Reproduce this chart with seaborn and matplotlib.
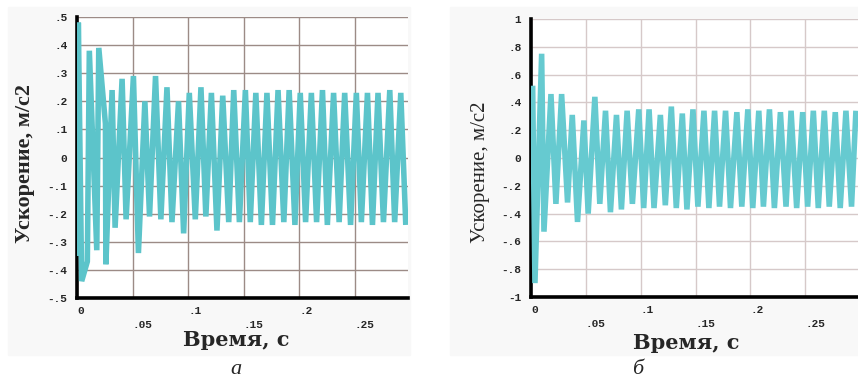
import numpy as np
import pandas as pd
import matplotlib
matplotlib.use("Agg")
import matplotlib.pyplot as plt
from matplotlib.patches import Rectangle
import seaborn as sns

# panel "а": peaks and troughs of the acceleration signal
t_peak_a = [0.0, 0.0012, 0.0111, 0.0196, 0.0256, 0.0316, 0.0406, 0.0508, 0.0611,
            0.0707, 0.0810, 0.0914, 0.1011, 0.1116, 0.1210, 0.1312, 0.1411,
            0.1516, 0.1610, 0.1710, 0.1810, 0.1910, 0.2010, 0.2110, 0.2210,
            0.2310, 0.2410, 0.2515, 0.2615, 0.2710, 0.2816, 0.2915]
v_peak_a = [0.27, 0.48, 0.38, 0.39, 0.12, 0.24, 0.28, 0.29, 0.20,
            0.29, 0.25, 0.20, 0.23, 0.25, 0.23, 0.22, 0.24,
            0.24, 0.23, 0.23, 0.24, 0.24, 0.23, 0.23, 0.24,
            0.23, 0.23, 0.23, 0.23, 0.23, 0.24, 0.23]
t_trough_a = [0.0004, 0.0042, 0.0093, 0.0178, 0.0260, 0.0343, 0.0442, 0.0553,
              0.0653, 0.0755, 0.0855, 0.0960, 0.1065, 0.1160, 0.1260, 0.1366,
              0.1462, 0.1560, 0.1660, 0.1760, 0.1862, 0.1962, 0.2058, 0.2157,
              0.2254, 0.2360, 0.2463, 0.2560, 0.2660, 0.2759, 0.2860, 0.2960]
v_trough_a = [-0.35, -0.44, -0.37, -0.33, -0.38, -0.25, -0.22, -0.34,
              -0.21, -0.22, -0.23, -0.27, -0.22, -0.21, -0.26, -0.23,
              -0.23, -0.23, -0.24, -0.24, -0.23, -0.24, -0.23, -0.23,
              -0.24, -0.23, -0.24, -0.23, -0.24, -0.23, -0.23, -0.24]

# panel "б"
t_peak_b = [0.0015, 0.0097, 0.0182, 0.0279, 0.0376, 0.0482, 0.0582, 0.0679,
            0.0779, 0.0876, 0.0982, 0.1076, 0.1179, 0.1279, 0.1379, 0.1476,
            0.1576, 0.1673, 0.1773, 0.1876, 0.1976, 0.2076, 0.2173, 0.2273,
            0.2370, 0.2476, 0.2573, 0.2673, 0.2773, 0.2870, 0.2961]
v_peak_b = [0.52, 0.75, 0.46, 0.46, 0.31, 0.27, 0.44, 0.34,
            0.31, 0.34, 0.35, 0.35, 0.31, 0.37, 0.32, 0.35,
            0.34, 0.34, 0.34, 0.33, 0.35, 0.34, 0.35, 0.33,
            0.34, 0.33, 0.34, 0.34, 0.33, 0.34, 0.34]
t_trough_b = [0.0036, 0.0118, 0.0227, 0.0333, 0.0424, 0.0521, 0.0627, 0.0724,
              0.0824, 0.0924, 0.1027, 0.1121, 0.1224, 0.1324, 0.1421, 0.1521,
              0.1621, 0.1718, 0.1818, 0.1921, 0.2021, 0.2118, 0.2218, 0.2324,
              0.2421, 0.2521, 0.2618, 0.2718, 0.2818, 0.2921]
v_trough_b = [-0.90, -0.53, -0.33, -0.32, -0.46, -0.40, -0.33, -0.39,
              -0.37, -0.33, -0.36, -0.36, -0.34, -0.36, -0.37, -0.35,
              -0.36, -0.35, -0.36, -0.35, -0.36, -0.35, -0.36, -0.35,
              -0.36, -0.35, -0.36, -0.35, -0.36, -0.35]

yticks_a = [0.5, 0.4, 0.3, 0.2, 0.1, 0.0, -0.1, -0.2, -0.3, -0.4, -0.5]
ylabels_a = [".5", ".4", ".3", ".2", ".1", "0", "-.1", "-.2", "-.3", "-.4", "-.5"]
yticks_b = [1.0, 0.8, 0.6, 0.4, 0.2, 0.0, -0.2, -0.4, -0.6, -0.8, -1.0]
ylabels_b = ["1", ".8", ".6", ".4", ".2", "0", "-.2", "-.4", "-.6", "-.8", "-1"]
xticks_major = [0.0, 0.1, 0.2]
xlabels_major = ["0", ".1", ".2"]
xticks_minor = [0.05, 0.15, 0.25]
xlabels_minor = [".05", ".15", ".25"]


def signal(tp, vp, tt, vt):
    df = pd.concat([
        pd.DataFrame({"t": tp, "acc": vp}),
        pd.DataFrame({"t": tt, "acc": vt}),
    ])
    return df.sort_values("t").reset_index(drop=True)


sns.set_style("white")

fig = plt.figure(figsize=(8.58, 3.79), dpi=100)
fig.patch.set_facecolor("white")
# very light grey backdrop behind each original screenshot
fig.patches.append(Rectangle((8 / 858, 1 - 355 / 379), 402 / 858, 348 / 379,
                             transform=fig.transFigure, color="#f8f8f8", zorder=-10))
fig.patches.append(Rectangle((450 / 858, 1 - 355 / 379), 408 / 858, 348 / 379,
                             transform=fig.transFigure, color="#f8f8f8", zorder=-10))

ax_a = fig.add_axes([77 / 858, 1 - 298 / 379, 331 / 858, 281 / 379])
ax_b = fig.add_axes([531 / 858, 1 - 297 / 379, 327 / 858, 278 / 379])

mono = {"family": "Liberation Mono", "weight": "bold", "size": 8}

panels = [
    (ax_a, signal(t_peak_a, v_peak_a, t_trough_a, v_trough_a), (-0.5, 0.5),
     yticks_a, ylabels_a, "#9c8b86", "#5cc4ca"),
    (ax_b, signal(t_peak_b, v_peak_b, t_trough_b, v_trough_b), (-1.0, 1.0),
     yticks_b, ylabels_b, "#d6c9c9", "#66cad0"),
]

for ax, df, ylim, yt, yl, grid_color, line_color in panels:
    ax.set_facecolor("white")
    sns.lineplot(data=df, x="t", y="acc", ax=ax, color=line_color,
                 linewidth=4.0, estimator=None, sort=True, zorder=3,
                 solid_joinstyle="bevel", solid_capstyle="butt")
    ax.set_xlim(0, 0.298)
    ax.set_ylim(*ylim)

    ax.set_xticks(xticks_major)
    ax.set_xticklabels(xlabels_major, fontdict=mono, ha="left")
    ax.set_xticks(xticks_minor, minor=True)
    ax.set_xticklabels(xlabels_minor, minor=True, fontdict=mono, ha="left")
    ax.set_yticks(yt)
    ax.set_yticklabels(yl, fontdict=mono)
    ax.tick_params(axis="x", which="major", length=0, pad=6)
    ax.tick_params(axis="x", which="minor", length=0, pad=16)
    ax.tick_params(axis="y", length=0, pad=7)

    ax.xaxis.grid(True, which="both", color=grid_color, linewidth=1.0)
    ax.yaxis.grid(True, color=grid_color, linewidth=1.0)
    ax.set_axisbelow(True)

    for side in ["top", "right"]:
        ax.spines[side].set_visible(False)
    for side in ["left", "bottom"]:
        ax.spines[side].set_color("black")
        ax.spines[side].set_linewidth(2.6)

    ax.set_xlabel("Время, с", fontsize=15, fontweight="bold",
                  family="DejaVu Serif")

ax_a.set_ylabel("Ускорение, м/с2", fontsize=16, fontweight="bold",
                family="Liberation Serif")
ax_b.set_ylabel("Ускорение, м/с2", fontsize=15, fontweight="normal",
                family="Liberation Serif")
ax_a.yaxis.set_label_coords(-0.127, 0.48)
ax_b.yaxis.set_label_coords(-0.125, 0.45)
ax_a.xaxis.set_label_coords(0.48, -0.115)
ax_b.xaxis.set_label_coords(0.474, -0.13)

fig.text(236 / 858, 1 - 370 / 379, "а", ha="center", va="center",
         fontsize=16, style="italic", family="Liberation Serif")
fig.text(638 / 858, 1 - 369 / 379, "б", ha="center", va="center",
         fontsize=16, style="italic", family="Liberation Serif")

fig.savefig("out.png", dpi=100)
